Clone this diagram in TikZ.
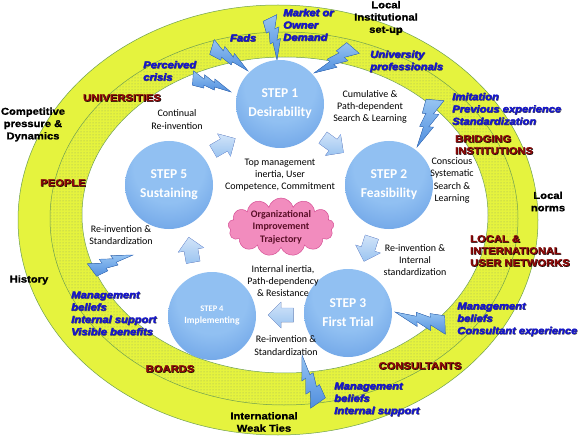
\documentclass[tikz,border=0pt]{standalone}
\usepackage{fontspec}
\setmainfont{Carlito}
\newfontfamily\hv{Liberation Sans}[UprightFont={* Bold}, ItalicFont={* Bold Italic}, FakeStretch=1.12, FakeBold=1.3]
\usetikzlibrary{shapes.symbols,patterns}
\definecolor{ringy}{RGB}{229,243,62}
\definecolor{ringline}{RGB}{110,160,80}
\definecolor{dotc}{RGB}{150,170,100}
\definecolor{stepin}{RGB}{145,192,242}
\definecolor{stepout}{RGB}{60,124,214}
\definecolor{arrlight}{RGB}{210,228,249}
\definecolor{arrdark}{RGB}{155,196,240}
\definecolor{boltlight}{RGB}{150,196,242}
\definecolor{boltdark}{RGB}{80,142,222}
\definecolor{boltline}{RGB}{60,118,200}
\definecolor{cloudfill}{RGB}{242,140,190}
\definecolor{cloudline}{RGB}{214,80,150}
\definecolor{cloudtxt}{RGB}{90,15,40}
\definecolor{bluetxt}{RGB}{22,22,205}
\definecolor{redtxt}{RGB}{140,10,10}
\pgfdeclareradialshading{stepshade}{\pgfpoint{0bp}{14bp}}{color(0bp)=(stepin); color(20bp)=(stepin); color(58bp)=(stepout); color(70bp)=(stepout)}
\newcommand\shk[1]{\makebox[0pt][l]{\kern.6pt\raisebox{-.6pt}{\color{black}#1}}#1}
\newcommand\shb[1]{\makebox[0pt][l]{\kern.5pt\raisebox{-.5pt}{\color{black!70}#1}}#1}
\newcommand\bolt[4]{%
  \pgfmathsetmacro\bang{atan2(#2-#4,#3-#1)}%
  \pgfmathsetmacro\blen{veclen(#3-#1,#4-#2)}%
  \begin{scope}[shift={(#1,#2)}, rotate=\bang, x=\blen pt, y=\blen pt]
    \filldraw[boltsty] (0.051,-0.171) -- (-0.051,0.171) -- (0.269,0.068) -- (0.241,0.174)
      -- (0.543,0.074) -- (0.515,0.163) -- (1,0) -- (0.579,-0.024) -- (0.599,-0.097)
      -- (0.312,-0.072) -- (0.336,-0.141) -- cycle;
  \end{scope}}
\newcommand\barrow[3]{%
  \begin{scope}[shift={(#1,#2)}, rotate=#3, y=1pt]
    \filldraw[arrsty] (-12.5,-7) -- (0,-7) -- (0,-13) -- (13,0) -- (0,13) -- (0,7) -- (-12.5,7) -- cycle;
  \end{scope}}
\begin{document}
\begin{tikzpicture}[x=1pt,y=-1pt,
  boltsty/.style={top color=boltlight, bottom color=boltdark, draw=boltline, line width=0.4pt, line join=miter},
  arrsty/.style={top color=arrlight, bottom color=arrdark, draw=arrdark!85!blue, line width=0.3pt},
  stepc/.style={circle, minimum size=88pt, inner sep=0pt, shading=stepshade, text=white, align=center, font=\bfseries\fontsize{13.5}{19}\selectfont},
  lbl/.style={font=\fontsize{10}{12.3}\selectfont, align=center, inner sep=0pt},
  blu/.style={font=\hv\itshape\fontsize{10}{12.3}\selectfont, text=bluetxt, align=left, anchor=west, inner sep=0pt},
  redl/.style={font=\hv\fontsize{10}{12}\selectfont, text=redtxt, align=center, inner sep=0pt},
  blk/.style={font=\hv\fontsize{10}{12.3}\selectfont, align=center, inner sep=0pt},
  ringsty/.style={draw=ringline, line width=0.5pt}]
\useasboundingbox (0,0) rectangle (584,441);
\fill[white] (0,0) rectangle (584,441);
% ring
\filldraw[ringsty, fill=ringy] (278,220) ellipse [x radius=260pt, y radius=215pt];
\filldraw[ringsty, fill=ringy] (284,218.5) ellipse [x radius=234pt, y radius=186.5pt];
\fill[pattern=dots, pattern color=dotc] (284,218.5) ellipse [x radius=234pt, y radius=186.5pt];
\filldraw[ringsty, fill=white] (285,215) ellipse [x radius=203pt, y radius=158pt];
% lightning bolts
\bolt{193}{78}{231}{92}
\bolt{212}{47}{248}{71}
\bolt{270}{18}{277}{60}
\bolt{353}{48}{314}{73}
\bolt{435}{100}{417}{147}
\bolt{445}{325}{395}{312}
\bolt{318}{403}{302}{355}
\bolt{92}{270}{133}{255}
% steps
\node[stepc] (s1) at (280,104) {STEP 1\\Desirability};
\node[stepc] (s2) at (389,185) {STEP 2\\Feasibility};
\node[stepc] (s3) at (348,313) {STEP 3\\First Trial};
\node[stepc, font=\bfseries\fontsize{8.5}{12}\selectfont] (s4) at (212,316) {STEP 4\\{\fontsize{9.5}{12}\selectfont Implementing}};
\node[stepc] (s5) at (169,185) {STEP 5\\Sustaining};
% block arrows between the steps
\barrow{224}{145}{30}
\barrow{333}{145}{-36}
\barrow{368}{249}{-108}
\barrow{281}{315}{180}
\barrow{191}{250}{100}
% cloud
\node[cloud, cloud puffs=13, aspect=1.9, fill=cloudfill, draw=cloudline, line width=0.5pt, minimum width=106pt, minimum height=58pt, inner sep=0pt] (cloud) at (281,227) {};
\node[font=\bfseries\fontsize{10}{12.5}\selectfont, text=cloudtxt, align=center, inner sep=0pt] (cloudt) at (cloud.center) {Organizational\\Improvement\\Trajectory};
% labels
\node[blk] (locinst) at (386,18) {Local\\Institutional\\set-up};
\node[blu] (market) at (283,25) {\shb{Market or}\\\shb{Owner}\\\shb{Demand}};
\node[blu, anchor=center] (fads) at (243,38) {\shb{Fads}};
\node[blu] (percv) at (143,71) {\shb{Perceived}\\\shb{crisis}};
\node[blu] (univ) at (370,61.5) {\shb{University}\\\shb{professionals}};
\node[redl] (univs) at (122,98) {\shk{UNIVERSITIES}};
\node[blk] (comp) at (33,124.5) {Competitive\\pressure \&\\Dynamics};
\node[lbl] (cont) at (177,119.5) {Continual\\Re-invention};
\node[lbl] (cumu) at (370,107) {Cumulative \&\\Path-dependent\\Search \& Learning};
\node[blu] (imit) at (452,109) {\shb{Imitation}\\\shb{Previous experience}\\\shb{Standardization}};
\node[redl, anchor=west, align=left] (bridg) at (455,145) {\shk{BRIDGING}\\\shk{INSTITUTIONS}};
\node[lbl] (consc) at (452,180.5) {Conscious\\Systematic\\Search \&\\Learning};
\node[blk] (lnorm) at (548,201.5) {Local\\norms};
\node[lbl] (topm) at (280,175) {Top management\\inertia, User\\Competence, Commitment};
\node[redl] (people) at (63,183) {\shk{PEOPLE}};
\node[lbl] (reinvl) at (121,235) {Re-invention \&\\Standardization};
\node[lbl] (reinvr) at (415,260) {Re-invention \&\\Internal\\standardization};
\node[redl, anchor=west, align=left] (lun) at (470,251) {\shk{LOCAL \&}\\\shk{INTERNATIONAL}\\\shk{USER NETWORKS}};
\node[lbl] (inert) at (283,281) {Internal inertia,\\Path-dependency\\\& Resistance};
\node[blk] (hist) at (29,280) {History};
\node[blu] (mgl) at (71,313.5) {\shb{Management}\\\shb{beliefs}\\\shb{Internal support}\\\shb{Visible benefits}};
\node[blu] (mgr) at (457,319.5) {\shb{Management}\\\shb{beliefs}\\\shb{Consultant experience}};
\node[lbl] (reinvb) at (286,345.5) {Re-invention \&\\Standardization};
\node[redl] (boards) at (170,369) {\shk{BOARDS}};
\node[redl] (cons) at (420,366) {\shk{CONSULTANTS}};
\node[blu] (mgb) at (334,399.5) {\shb{Management}\\\shb{beliefs}\\\shb{Internal support}};
\node[blk] (intl) at (264,422) {International\\Weak Ties};
\end{tikzpicture}
\end{document}
